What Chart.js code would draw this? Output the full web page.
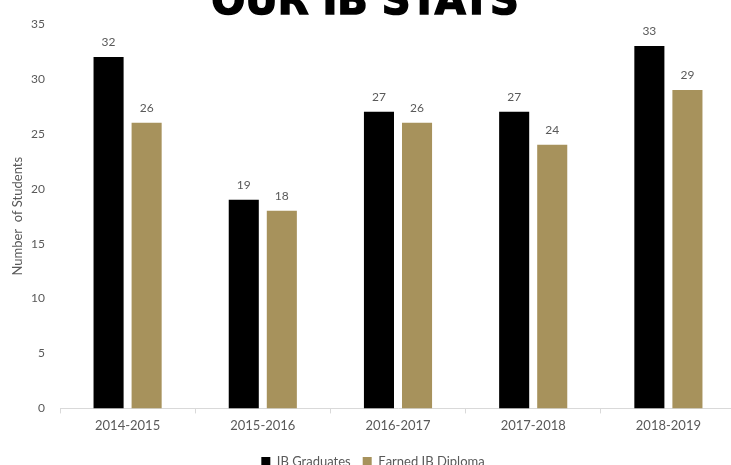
<!DOCTYPE html>
<html>
<head>
<meta charset="utf-8">
<script src="https://cdn.jsdelivr.net/npm/chart.js@4.4.1/dist/chart.umd.min.js"></script>
<style>
  html, body { margin:0; padding:0; background:#fff; overflow:hidden; }
  #wrap { position:relative; width:742px; height:478px; }
</style>
</head>
<body>
<div id="wrap"><canvas id="chart"></canvas></div>
<script>
// ----- DATA -----
const years = ['2014-2015', '2015-2016', '2016-2017', '2017-2018', '2018-2019'];
const graduates = [32, 19, 27, 27, 33];
const diplomas = [26, 18, 26, 24, 29];
const yTicks = [0, 5, 10, 15, 20, 25, 30, 35];

const GRAY = '#595959';
const FONT = 'Lato, "Liberation Sans", sans-serif';

// big title at the top, mostly cut off like the source image
const titlePlugin = {
  id: 'bigTitle',
  afterDraw(chart) {
    const ctx = chart.ctx;
    ctx.save();
    ctx.font = 'bold 40px "DejaVu Sans"';
    ctx.fillStyle = '#000';
    ctx.strokeStyle = '#000';
    ctx.lineWidth = 1.5;
    ctx.textAlign = 'center';
    ctx.textBaseline = 'alphabetic';
    ctx.fillText('OUR IB STATS', 365, 14);
    ctx.strokeText('OUR IB STATS', 365, 14);
    ctx.restore();
  }
};

// value labels above each bar
const valueLabels = {
  id: 'valueLabels',
  afterDatasetsDraw(chart) {
    const ctx = chart.ctx;
    ctx.save();
    ctx.font = '12px ' + FONT;
    ctx.fillStyle = GRAY;
    ctx.textAlign = 'center';
    ctx.textBaseline = 'bottom';
    chart.data.datasets.forEach((ds, i) => {
      chart.getDatasetMeta(i).data.forEach((bar, j) => {
        ctx.fillText(ds.data[j], bar.x, bar.y - 9);
      });
    });
    ctx.restore();
  }
};

new Chart(document.getElementById('chart'), {
  type: 'bar',
  data: {
    labels: years,
    datasets: [
      { label: 'IB Graduates', data: graduates, backgroundColor: '#000000' },
      { label: 'Earned IB Diploma', data: diplomas, backgroundColor: '#a7925c' }
    ]
  },
  options: {
    responsive: true,
    maintainAspectRatio: false,
    animation: false,
    categoryPercentage: 0.563,
    barPercentage: 0.79,
    layout: { padding: { left: 10, right: 6, top: 24, bottom: 0 } },
    plugins: {
      legend: {
        position: 'bottom',
        labels: { color: GRAY, font: { family: FONT, size: 13 }, boxWidth: 9, boxHeight: 9, padding: 12 }
      },
      tooltip: { enabled: false }
    },
    scales: {
      x: {
        afterFit: s => { s.height += 4; },
        grid: { drawOnChartArea: false, color: '#d9d9d9', tickLength: 5 },
        border: { color: '#d9d9d9' },
        ticks: { color: GRAY, font: { family: FONT, size: 13 }, padding: 5 }
      },
      y: {
        min: 0, max: 35,
        afterFit: s => { s.width = 50; },
        afterBuildTicks: s => { s.ticks = yTicks.map(v => ({ value: v })); },
        grid: { display: false },
        border: { display: false },
        ticks: { color: GRAY, font: { family: FONT, size: 12 }, padding: 7 },
        title: { display: true, text: 'Number  of Students', color: GRAY, font: { family: FONT, size: 13 }, padding: 0 }
      }
    }
  },
  plugins: [titlePlugin, valueLabels]
});
</script>
</body>
</html>
